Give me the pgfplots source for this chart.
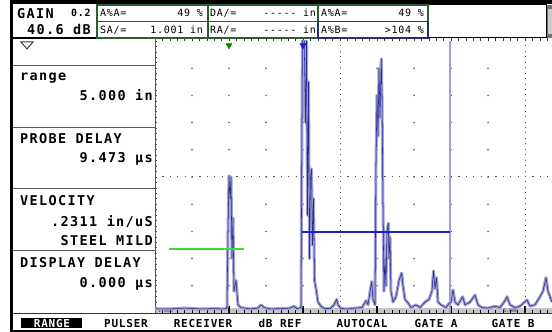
\documentclass[border=0pt]{standalone}
\usepackage{pgfplots}
\usepackage{pgfplotstable}
\pgfplotsset{compat=1.18}
\usepackage{fontspec}
\setmainfont{DejaVu Sans Mono}
\newfontfamily\pan{DejaVu Sans Mono}[LetterSpace=10]
\newfontfamily\boxfont{DejaVu Sans Mono}[LetterSpace=7]

\definecolor{trace}{HTML}{2B2B8F}
\definecolor{halo}{HTML}{A0A0D4}
\definecolor{gateA}{HTML}{3CDC3C}
\definecolor{gateB}{HTML}{1E1ECC}
\definecolor{dgreen}{HTML}{2E5E2E}
\definecolor{dnavy}{HTML}{2A2A78}
\definecolor{panel}{HTML}{5A5A5A}
\definecolor{strip}{HTML}{C6C6C6}

% A-scan: x in screen divisions, y in % full screen height
\pgfplotstableread{
x y
0 1.5
0.405 1.5
0.811 1.8
1.216 1.5
1.622 1.6
1.892 1.5
1.946 2
1.973 30
2.0 50.5
2.027 42
2.054 50
2.081 20
2.108 35
2.135 8
2.189 12
2.243 3
2.324 2
2.568 1.5
2.784 1.8
2.865 3
2.946 2
3.108 1.5
3.378 1.6
3.649 1.8
3.757 2.5
3.838 1.6
3.946 2
3.986 105
4.027 105
4.068 70
4.095 100
4.122 36
4.149 85
4.176 20
4.203 50
4.230 53
4.257 25
4.284 42
4.311 12
4.351 9
4.405 4
4.486 2.5
4.568 1.7
4.730 1.6
4.838 3
4.911 5
4.946 3
5.027 1.6
5.216 1.5
5.405 1.8
5.595 2
5.703 4.5
5.757 3
5.811 7.8
5.857 11.5
5.892 5
5.946 3
5.973 55
6.0 80
6.027 65
6.054 90
6.081 72
6.116 93.4
6.135 80
6.162 40
6.189 8
6.216 20
6.243 10
6.270 30
6.305 33
6.324 20
6.351 28
6.378 8
6.432 4
6.514 6
6.595 12
6.668 14.7
6.703 10
6.757 5
6.838 3.7
6.919 2
7.054 3
7.162 2
7.297 4
7.405 5
7.486 8
7.527 15.5
7.568 9
7.608 13
7.649 4
7.730 3
7.865 2
7.946 3.5
8.0 4
8.054 8.5
8.108 4
8.189 3
8.316 6
8.378 3
8.514 4
8.649 6.6
8.730 3
8.838 2
9.0 1.8
9.189 2.5
9.324 2
9.459 4.5
9.514 6
9.595 3
9.730 2
9.865 2.5
9.946 3.5
10.054 4.8
10.135 2.5
10.270 3
10.405 6
10.486 8
10.568 13
10.622 8
10.676 6
10.730 4
}\ascan

\begin{document}
\begin{tikzpicture}
\useasboundingbox (0,0) rectangle (552pt,332pt);
\begin{scope}[x=1pt,y=-1pt,shift={(0pt,332pt)}]
  \fill[white] (0,0) rectangle (552,332);
  % frame
  \fill[black] (10,0) rectangle (552,4.5);
  \fill[black] (10,0) rectangle (13,332);
  \fill[black] (13,330.5) rectangle (552,332);
  % grey base strip and scale ticks
  \fill[strip] (155,308) rectangle (552,313);
  \foreach \k in {0,...,53} \draw[black, line width=0.6pt] (155+7.4*\k,310.5) -- ++(0,2.5);
  \foreach \i in {2,4,6,8,10} \draw[black, line width=1.2pt] (155+37*\i,306.5) -- ++(0,6.5);
  \node[anchor=base west, inner sep=0, text=dnavy, font=\fontsize{5}{5}\selectfont] at (158,312.5) {1.000};
  \node[anchor=base west, inner sep=0, text=dnavy, font=\fontsize{5}{5}\selectfont] at (503,312.5) {5.000};
  % grid dots
  \foreach \i in {1,2,3,4,6,7,8,9}
    \foreach \j in {1,...,9}
      \fill[black!70] (155+37*\i,41+27.2*\j) circle (0.85);
  \draw[black!70, line width=1pt, dash pattern=on 1pt off 4.44pt] (340,313) -- (340,41);
  \draw[black!70, line width=1pt, dash pattern=on 1pt off 4.44pt] (525,313) -- (525,41);
  \draw[black!70, line width=1pt, dash pattern=on 1.2pt off 6.2pt] (155,177) -- (552,177);
  % top and left tick rows
  \foreach \k in {0,...,53} \draw[black!80, line width=0.6pt] (155+7.4*\k,38.5) -- ++(0,2.5);
  \draw[panel, line width=1pt] (155,38) -- (155,313);
  \foreach \k in {0,...,49} \draw[black!70, line width=0.6pt] (155,41+5.44*\k) -- ++(2,0);
  % left panel
  \foreach \yy in {66,128,189,251} \draw[panel, line width=1pt] (13,\yy) -- (155,\yy);
  \draw[black!80, line width=1pt] (13,314) -- (552,314);
  \draw[black!75, line width=1pt] (21,42) -- (33,42) -- (27,49) -- cycle;
  \begin{scope}[every node/.style={inner sep=0, font=\pan\bfseries\fontsize{13.5}{14}\selectfont}]
    \node[anchor=base west] at (20,81) {range};
    \node[anchor=base east] at (153,101) {5.000 in};
    \node[anchor=base west] at (20,144) {PROBE DELAY};
    \node[anchor=base east] at (153,162.7) {9.473 µs};
    \node[anchor=base west] at (20,206) {VELOCITY};
    \node[anchor=base east] at (153,226.7) {.2311 in/uS};
    \node[anchor=base east] at (153,245.7) {STEEL MILD};
    \node[anchor=base west] at (20,267.3) {DISPLAY DELAY};
    \node[anchor=base east] at (153,288) {0.000 µs};
    \node[anchor=base west] at (17,18.3) {GAIN};
    \node[anchor=base west] at (27,35) {40.6 dB};
  \end{scope}
  \node[anchor=base west, inner sep=0, font=\boxfont\bfseries\fontsize{10}{10}\selectfont] at (71,17) {0.2};
  \draw[black, line width=1.2pt] (13,38) -- (97,38);
  % header boxes
  \draw[dgreen, line width=1.2pt] (97,5) rectangle (208,38);
  \draw[dgreen, line width=1.2pt] (97,21.5) -- (208,21.5);
  \draw[dgreen, line width=1.2pt] (208,5) rectangle (318,38);
  \draw[dgreen, line width=1.2pt] (208,21.5) -- (318,21.5);
  \draw[black, line width=1pt] (428,5) rectangle (546,38);
  \draw[dgreen, line width=1.2pt] (318,5) rectangle (428,21.5);
  \draw[dnavy, line width=1.2pt] (318,21.5) rectangle (428,38);
  \fill[black!55] (547,5) rectangle (552,38);
  \fill[black!20] (548,9) rectangle (552,34);
  \begin{scope}[every node/.style={inner sep=0, font=\boxfont\fontsize{10}{10}\selectfont}]
    \node[anchor=base west] at (100,16.7) {A\%A=};
    \node[anchor=base east] at (203,16.7) {49 \%};
    \node[anchor=base west] at (100,33.3) {SA/=};
    \node[anchor=base east] at (203,33.3) {1.001 in};
    \node[anchor=base west] at (210,16.7) {DA/=};
    \node[anchor=base east] at (316,16.7) {----- in};
    \node[anchor=base west] at (210,33.3) {RA/=};
    \node[anchor=base east] at (316,33.3) {----- in};
    \node[anchor=base west] at (321,16.7) {A\%A=};
    \node[anchor=base east] at (424,16.7) {49 \%};
    \node[anchor=base west] at (321,33.3) {A\%B=};
    \node[anchor=base east] at (424,33.3) {>104 \%};
  \end{scope}
  % menu bar
  \fill[black] (21,318.5) rectangle (82,328.5);
  \begin{scope}[every node/.style={inner sep=0, anchor=base, font=\boxfont\bfseries\fontsize{11}{11}\selectfont}]
    \node[text=white] at (52,327.7) {RANGE};
    \node at (126,327.7) {PULSER};
    \node at (203,327.7) {RECEIVER};
    \node at (280,327.7) {dB REF};
    \node at (362,327.7) {AUTOCAL};
    \node at (436,327.7) {GATE A};
    \node at (513,327.7) {GATE B};
  \end{scope}
\end{scope}

\begin{axis}[
    at={(155pt,19pt)}, anchor=south west,
    scale only axis, width=397pt, height=272pt,
    xmin=0, xmax=10.73, ymin=0, ymax=100,
    hide axis, clip=true
]
\addplot[halo, line width=1.2pt] coordinates {(7.973,0) (7.973,100)};
\addplot[halo, line width=3pt, line join=round] table[x=x, y=y] {\ascan};
\addplot[trace, line width=0.55pt, line join=round] table[x=x, y=y] {\ascan};
\addplot[gateA, line width=1.6pt] coordinates {(0.378,23.5) (2.405,23.5)};
\addplot[gateB, line width=1.7pt] coordinates {(3.97,29.8) (7.973,29.8)};
\addplot[only marks, mark=triangle*, mark size=3.6pt, color=green!55!black,
    mark options={rotate=180}] coordinates {(2,98.4)};
\addplot[only marks, mark=triangle*, mark size=3.6pt, color=gateB,
    mark options={rotate=180}] coordinates {(4,98.4)};
\end{axis}
\end{tikzpicture}
\end{document}
